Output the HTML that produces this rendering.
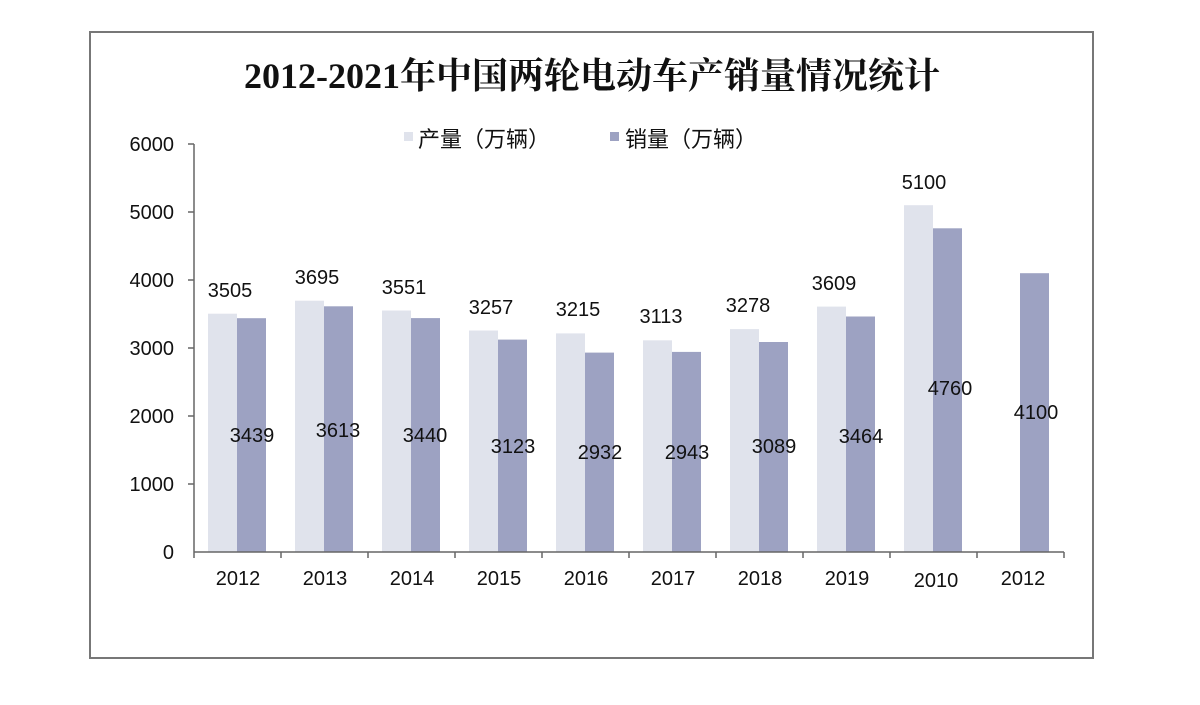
<!DOCTYPE html><html><head><meta charset="utf-8"><style>body{margin:0;background:#fff}</style></head><body>
<svg width="1200" height="700" xmlns="http://www.w3.org/2000/svg" font-family="Liberation Sans, Noto Sans CJK SC, sans-serif">
<rect x="90" y="32" width="1003" height="626" fill="#fff" stroke="#777" stroke-width="2"/>
<text x="592" y="88" text-anchor="middle" font-family="Liberation Serif, Noto Serif CJK SC, serif" font-weight="bold" font-size="36" fill="#111">2012-2021年中国两轮电动车产销量情况统计</text>
<rect x="404" y="132" width="9" height="9" fill="#e0e3ec"/>
<text x="418" y="147" font-size="22" fill="#111">产量（万辆）</text>
<rect x="610" y="132" width="9" height="9" fill="#9da2c2"/>
<text x="625" y="147" font-size="22" fill="#111">销量（万辆）</text>
<g font-size="20" fill="#111" text-anchor="end">
<text x="174" y="151">6000</text><text x="174" y="219">5000</text><text x="174" y="287">4000</text><text x="174" y="355">3000</text><text x="174" y="423">2000</text><text x="174" y="491">1000</text><text x="174" y="559">0</text></g>
<g fill="#e0e3ec">
<rect x="208" y="313.7" width="29" height="238.3"/>
<rect x="295" y="300.7" width="29" height="251.3"/>
<rect x="382" y="310.5" width="29" height="241.5"/>
<rect x="469" y="330.5" width="29" height="221.5"/>
<rect x="556" y="333.4" width="29" height="218.6"/>
<rect x="643" y="340.3" width="29" height="211.7"/>
<rect x="730" y="329.1" width="29" height="222.9"/>
<rect x="817" y="306.6" width="29" height="245.4"/>
<rect x="904" y="205.2" width="29" height="346.8"/>
</g>
<g fill="#9da2c2">
<rect x="237" y="318.2" width="29" height="233.8"/>
<rect x="324" y="306.3" width="29" height="245.7"/>
<rect x="411" y="318.1" width="29" height="233.9"/>
<rect x="498" y="339.6" width="29" height="212.4"/>
<rect x="585" y="352.6" width="29" height="199.4"/>
<rect x="672" y="351.9" width="29" height="200.1"/>
<rect x="759" y="342" width="29" height="210"/>
<rect x="846" y="316.5" width="29" height="235.5"/>
<rect x="933" y="228.3" width="29" height="323.7"/>
<rect x="1020" y="273.2" width="29" height="278.8"/>
</g>
<g font-size="20" fill="#111" text-anchor="middle">
<text x="230" y="297">3505</text><text x="317" y="284">3695</text><text x="404" y="294">3551</text><text x="491" y="314">3257</text><text x="578" y="316">3215</text><text x="661" y="323">3113</text><text x="748" y="312">3278</text><text x="834" y="290">3609</text><text x="924" y="189">5100</text>
<text x="252" y="442">3439</text><text x="338" y="437">3613</text><text x="425" y="442">3440</text><text x="513" y="453">3123</text><text x="600" y="459">2932</text><text x="687" y="459">2943</text><text x="774" y="453">3089</text><text x="861" y="443">3464</text><text x="950" y="395">4760</text><text x="1036" y="419">4100</text>
<text x="238" y="585">2012</text><text x="325" y="585">2013</text><text x="412" y="585">2014</text><text x="499" y="585">2015</text><text x="586" y="585">2016</text><text x="673" y="585">2017</text><text x="760" y="585">2018</text><text x="847" y="585">2019</text><text x="936" y="587">2010</text><text x="1023" y="585">2012</text>
</g>
<g stroke="#666" stroke-width="1.5">
<line x1="194" y1="144" x2="194" y2="552"/><line x1="194" y1="552" x2="1064" y2="552"/>
<line x1="188" y1="144" x2="194" y2="144"/><line x1="188" y1="212" x2="194" y2="212"/><line x1="188" y1="280" x2="194" y2="280"/><line x1="188" y1="348" x2="194" y2="348"/><line x1="188" y1="416" x2="194" y2="416"/><line x1="188" y1="484" x2="194" y2="484"/>
<line x1="194" y1="552" x2="194" y2="558"/><line x1="281" y1="552" x2="281" y2="558"/><line x1="368" y1="552" x2="368" y2="558"/><line x1="455" y1="552" x2="455" y2="558"/><line x1="542" y1="552" x2="542" y2="558"/><line x1="629" y1="552" x2="629" y2="558"/><line x1="716" y1="552" x2="716" y2="558"/><line x1="803" y1="552" x2="803" y2="558"/><line x1="890" y1="552" x2="890" y2="558"/><line x1="977" y1="552" x2="977" y2="558"/><line x1="1064" y1="552" x2="1064" y2="558"/>
</g>
</svg></body></html>
